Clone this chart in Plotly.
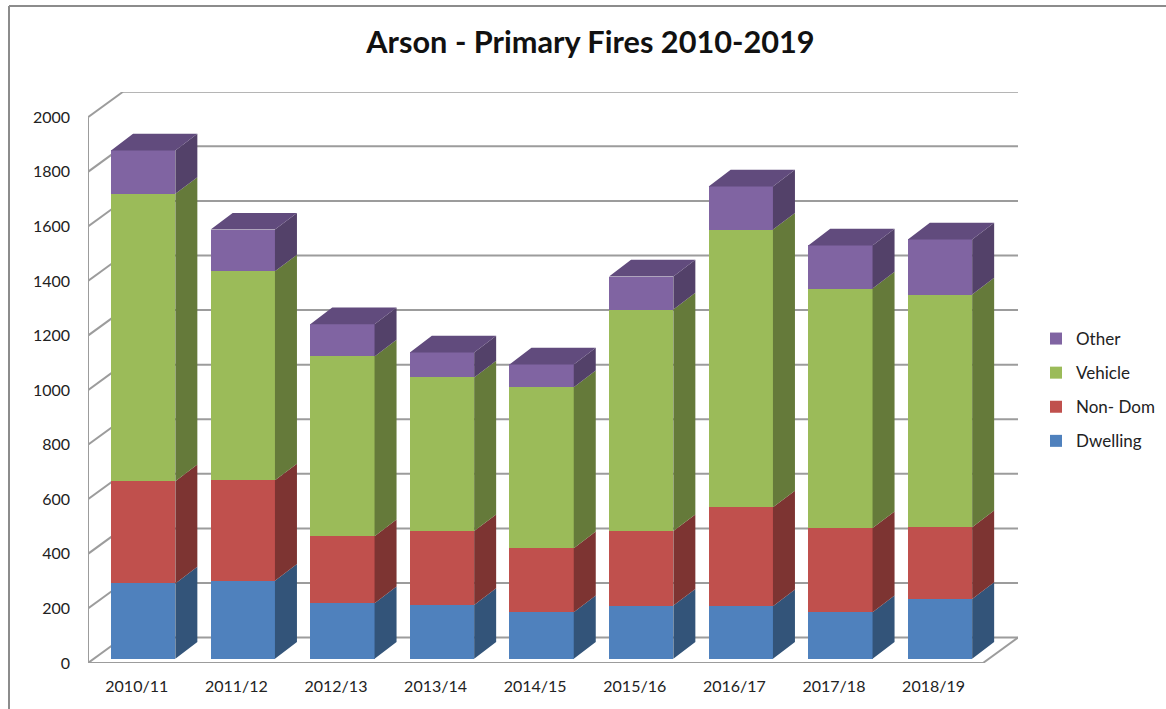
import plotly.graph_objects as go

categories = ["2010/11", "2011/12", "2012/13", "2013/14", "2014/15", "2015/16", "2016/17", "2017/18", "2018/19"]
dwelling = [276, 286, 204, 197, 171, 195, 193, 171, 219]
non_dom = [375, 368, 245, 271, 234, 273, 362, 308, 263]
vehicle = [1053, 766, 659, 563, 590, 812, 1018, 878, 853]
other = [159, 153, 118, 92, 84, 121, 158, 158, 202]
y_ticks = [0, 200, 400, 600, 800, 1000, 1200, 1400, 1600, 1800, 2000]

series_names = ["Dwelling", "Non- Dom", "Vehicle", "Other"]
series_values = [dwelling, non_dom, vehicle, other]
legend_ranks = [4, 3, 2, 1]
front_colors = ["#4F81BD", "#C0504D", "#9BBB59", "#8064A2"]
side_colors = ["#335479", "#7D3432", "#657A3A", "#534169"]
top_color = "#614B7D"

# Plot-area geometry (pixels) of the pseudo-3D box
W, H = 1166, 709
L, R, T, B = 88, 1018, 92, 663.5
PX_PER_CAT = 99.6
PX_PER_UNIT = 0.2731
FIRST_TICK_PX = 48.75
xr = [-FIRST_TICK_PX / PX_PER_CAT, -FIRST_TICK_PX / PX_PER_CAT + (R - L) / PX_PER_CAT]
yr = [0, (B - T) / PX_PER_UNIT]

px_x = lambda p: p / PX_PER_CAT
px_y = lambda p: p / PX_PER_UNIT
WALL_DX, WALL_DY = px_x(35), px_y(25.5)
BAR_SHIFT, BAR_LIFT = px_x(6.45), px_y(4.2)
BAR_DX, BAR_DY = px_x(22), px_y(16.7)
BAR_W = px_x(64.3)

GRID = "#9C9C9C"
fig = go.Figure()

# walls and floor, as shapes below the traces
shapes = []
def seg(x0, y0, x1, y1):
    shapes.append(dict(type="line", xref="x", yref="y", x0=x0, y0=y0, x1=x1, y1=y1,
                       layer="below", line=dict(color=GRID, width=2)))
x_left = xr[0]
x_right_front = xr[1] - WALL_DX
for v in y_ticks:
    seg(x_left, v, x_left + WALL_DX, v + WALL_DY)
    seg(x_left + WALL_DX, v + WALL_DY, xr[1], v + WALL_DY)
seg(x_left, 0, x_left, y_ticks[-1])
seg(x_left, 0, x_right_front, 0)
seg(x_right_front, 0, xr[1], WALL_DY)

# outer chart frame
paper_x = lambda p: (p - L) / (R - L)
paper_y = lambda p: (B - p) / (B - T)
for a, b, c, d in [(9, 6, W + 4, 6), (9, 6, 9, H + 4)]:
    shapes.append(dict(type="line", xref="paper", yref="paper", x0=paper_x(a), y0=paper_y(b),
                       x1=paper_x(c), y1=paper_y(d), line=dict(color="#8C8C8C", width=2)))

# front faces and side faces
base = [BAR_LIFT] * len(categories)
for name, vals, fc, sc, rank in zip(series_names, series_values, front_colors, side_colors, legend_ranks):
    fig.add_trace(go.Bar(x=[i + BAR_SHIFT for i in range(len(categories))], y=vals, base=base, width=BAR_W,
                         name=name, legendgroup=name, legendrank=rank, marker=dict(color=fc, line=dict(width=0))))
    sx, sy = [], []
    for i, (b0, v) in enumerate(zip(base, vals)):
        xe = i + BAR_SHIFT + BAR_W / 2
        sx += [xe, xe + BAR_DX, xe + BAR_DX, xe, xe, None]
        sy += [b0, b0 + BAR_DY, b0 + v + BAR_DY, b0 + v, b0, None]
    fig.add_trace(go.Scatter(x=sx, y=sy, mode="lines", fill="toself", fillcolor=sc, line=dict(width=0),
                             showlegend=False, hoverinfo="skip"))
    base = [b0 + v for b0, v in zip(base, vals)]

# top faces of the stacks
tx, ty = [], []
for i, t in enumerate(base):
    xa = i + BAR_SHIFT - BAR_W / 2
    xb = i + BAR_SHIFT + BAR_W / 2
    tx += [xa, xb, xb + BAR_DX, xa + BAR_DX, xa, None]
    ty += [t, t, t + BAR_DY, t + BAR_DY, t, None]
fig.add_trace(go.Scatter(x=tx, y=ty, mode="lines", fill="toself", fillcolor=top_color, line=dict(width=0),
                         showlegend=False, hoverinfo="skip"))

FONT = "Lato"
fig.update_layout(
    width=W, height=H, autosize=False, barmode="overlay", bargap=0,
    margin=dict(l=L, r=W - R, t=T, b=H - B, pad=0),
    paper_bgcolor="white", plot_bgcolor="white",
    font=dict(family=FONT, size=16, color="#222222"),
    title=dict(text="<b>Arson - Primary Fires 2010-2019</b>", x=590.5 / W, xanchor="center", xref="container",
               y=1 - 42 / H, yanchor="middle", yref="container", font=dict(family=FONT, size=30.7, color="#111111")),
    xaxis=dict(range=xr, tickmode="array", tickvals=list(range(len(categories))), ticktext=categories,
               showgrid=False, zeroline=False, showline=False, ticks="", ticklabelstandoff=12, automargin=False),
    yaxis=dict(range=yr, tickmode="array", tickvals=y_ticks, showgrid=False, zeroline=False, showline=False,
               ticks="", ticklabelstandoff=17, automargin=False),
    legend=dict(x=1036 / W, y=1 - 321 / H, xref="container", yref="container", xanchor="left", yanchor="top",
                traceorder="grouped", tracegroupgap=9, font=dict(family=FONT, size=17, color="#222222"),
                bgcolor="rgba(0,0,0,0)", itemclick=False, itemdoubleclick=False),
    shapes=shapes,
    showlegend=True,
)
fig.write_html("out.html", config=dict(displayModeBar=False),
               post_script="document.body.style.margin='0';document.body.style.overflow='hidden';")
